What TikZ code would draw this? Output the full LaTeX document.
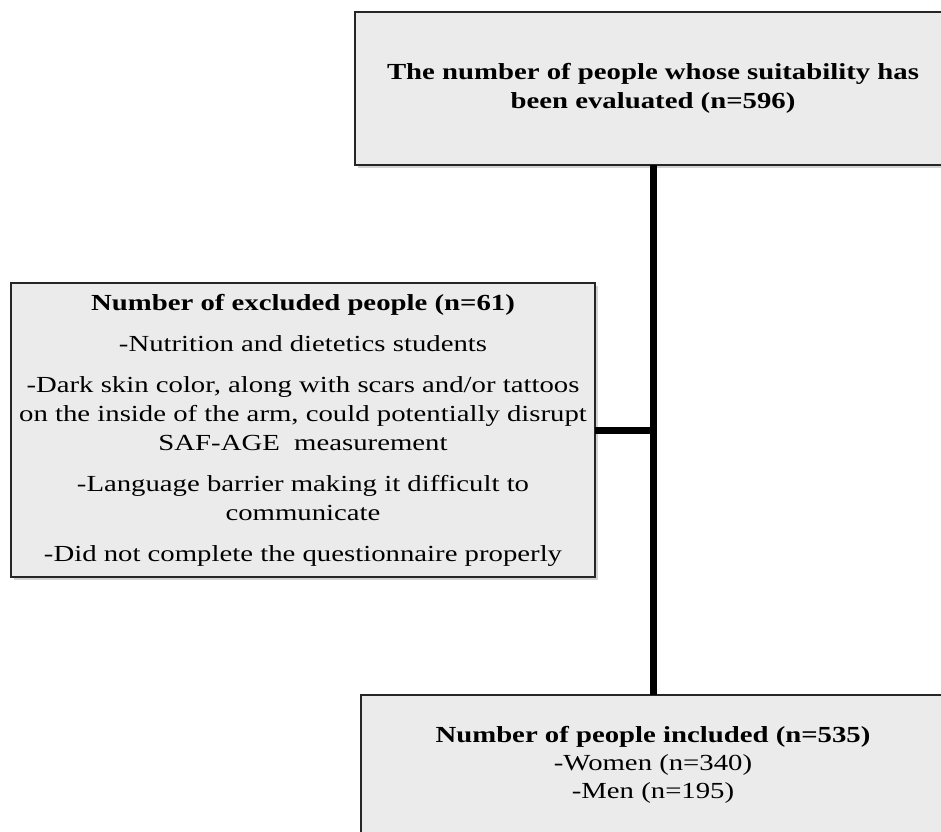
\documentclass[tikz,border=0pt]{standalone}
\usepackage{fontspec}
\setmainfont{Liberation Serif}[FakeStretch=1.25]
\usetikzlibrary{shadows}

\begin{document}
\begin{tikzpicture}[x=1pt,y=-1pt]
				\tikzset{box/.style={shape = rectangle, draw = black!85, line width = 2.2pt,
						fill = black!8, align = center, inner sep = 0pt, outer sep = 0pt,
						font = \fontsize{23}{29}\selectfont,
						drop shadow = {shadow xshift = 2.5pt, shadow yshift = -3pt, opacity = 0.35}}}
				\tikzset{link/.style={line width = 7pt, black}}
				\useasboundingbox (0,0) rectangle (941,831);
				\clip (0,0) rectangle (941,831);
				%boxes
				\node[box, minimum width = 596pt, minimum height = 153pt] (eval) at (653, 88.5)
					{\textbf{The number of people whose suitability has}\\\textbf{been evaluated (n=596)}};
				\node[box, minimum width = 584pt, minimum height = 294pt] (excl) at (303, 430)
					{\textbf{Number of excluded people (n=61)}\\[12pt]
					-Nutrition and dietetics students\\[12pt]
					-Dark skin color, along with scars and/or tattoos\\
					on the inside of the arm, could potentially disrupt\\
					SAF-AGE\ \ measurement\\[12pt]
					-Language barrier making it difficult to\\
					communicate\\[12pt]
					-Did not complete the questionnaire properly};
				\node[box, minimum width = 584pt, minimum height = 140pt,
					font = \fontsize{23}{28}\selectfont] (incl) at (653, 765)
					{\textbf{Number of people included (n=535)}\\-Women (n=340)\\-Men (n=195)};
				\coordinate (join) at (excl -| eval);
				%edges
				\path (eval) edge[link] (incl);
				\path (excl) edge[link] (join);
				\end{tikzpicture}
\end{document}
